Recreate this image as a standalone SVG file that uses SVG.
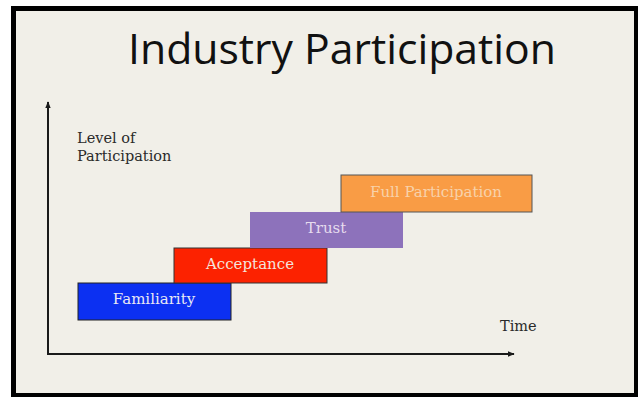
<svg xmlns="http://www.w3.org/2000/svg" width="638" height="397" viewBox="0 0 638 397">
<defs>
<style>
.lbl{font-family:"DejaVu Serif","Liberation Serif",serif;font-size:14.5px;fill:#2a2a2a}
.bx{font-family:"DejaVu Serif","Liberation Serif",serif;font-size:15px;text-anchor:middle}
</style>
<marker id="ah" viewBox="0 0 10 10" refX="9" refY="5" markerWidth="7" markerHeight="7" orient="auto" markerUnits="userSpaceOnUse"><path d="M0,1 L10,5 L0,9 z" fill="#1a1a1a"/></marker>
</defs>
<rect x="0" y="0" width="638" height="397" fill="#ffffff"/>
<rect x="11" y="6" width="627" height="391" fill="#000"/>
<rect x="16" y="11" width="618" height="382" fill="#f1efe8"/>
<text x="342" y="64" text-anchor="middle" font-family="'Open Sans','Liberation Sans',sans-serif" font-size="42" fill="#111" textLength="428" lengthAdjust="spacingAndGlyphs">Industry Participation</text>
<g id="connectors" stroke="#1a1a1a" stroke-width="2" fill="none">
<line x1="48" y1="354" x2="48" y2="102" marker-end="url(#ah)"/>
<line x1="47" y1="354" x2="514" y2="354" marker-end="url(#ah)"/>
</g>
<g id="ylabel"><text class="lbl" x="77" y="143">Level of</text><text class="lbl" x="77" y="161">Participation</text></g>
<g id="xlabel"><text class="lbl" x="500" y="331">Time</text></g>
<g id="familiarity"><rect x="78" y="283" width="153" height="37" fill="#0c30f2" stroke="#222" stroke-width="1"/><text class="bx" x="154" y="304" fill="#e8e8f4">Familiarity</text></g>
<g id="acceptance"><rect x="174" y="248" width="153" height="35" fill="#fc2200" stroke="#333" stroke-width="1"/><text class="bx" x="250" y="269" fill="#f4e4dc">Acceptance</text></g>
<g id="trust"><rect x="250" y="212" width="153" height="36" fill="#8d72bb"/><text class="bx" x="326" y="233" fill="#e6dcee">Trust</text></g>
<g id="full"><rect x="341" y="175" width="191" height="37" fill="#f99c45" stroke="#555" stroke-width="1"/><text class="bx" x="436" y="197" fill="#f8d2aa">Full Participation</text></g>
</svg>
